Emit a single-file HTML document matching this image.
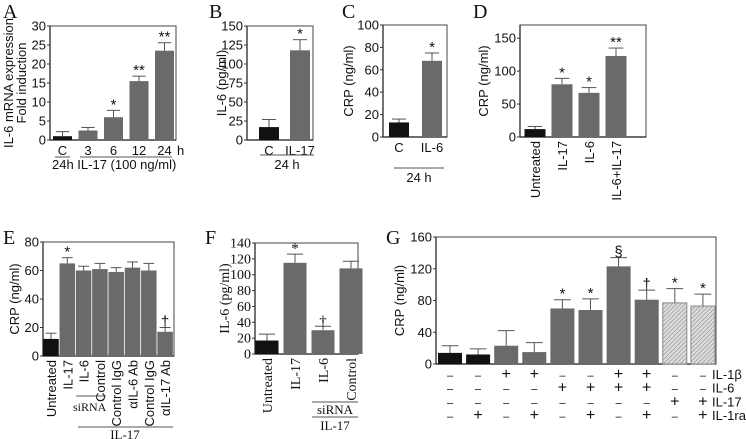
<!DOCTYPE html>
<html><head><meta charset="utf-8"><style>
body{margin:0;background:#fff}
svg{display:block;font-family:"Liberation Sans",sans-serif}
</style></head><body>
<svg id="fig" width="746" height="439" viewBox="0 0 746 439" xmlns="http://www.w3.org/2000/svg">
<defs><pattern id="hatch" width="3" height="3" patternUnits="userSpaceOnUse" patternTransform="rotate(45)"><rect width="3" height="3" fill="#ddd"/><line x1="0" y1="0" x2="0" y2="3" stroke="#888" stroke-width="1.2"/></pattern></defs>
<g font-family="Liberation Serif, serif" font-size="20" fill="#111">
<text x="3" y="18">A</text>
<text x="209" y="18">B</text>
<text x="342" y="18">C</text>
<text x="473" y="18">D</text>
<text x="3" y="244">E</text>
<text x="205" y="244">F</text>
<text x="386" y="244">G</text>
</g>
</svg>
<script>
// Panel A
const aCats=['C','3','6','12','24'];
const aVals=[1,2.5,6,15.5,23.5];
const aErr=[1.2,0.8,1.8,1.3,2.1];
const aMarks=['','','*','**','**'];
const aTicks=[0,5,10,15,20,25,30];
// Panel B
const bCats=['C','IL-17'];
const bVals=[17,118];
const bErr=[10,14];
const bMarks=['','*'];
const bTicks=[0,25,50,75,100,125,150];
// Panel C
const cCats=['C','IL-6'];
const cVals=[13,68];
const cErr=[3,7];
const cMarks=['','*'];
const cTicks=[0,20,40,60,80,100];
// Panel D
const dCats=['Untreated','IL-17','IL-6','IL-6+IL-17'];
const dVals=[12,80,67,123];
const dErr=[4,9,8,12];
const dMarks=['','*','*','**'];
const dTicks=[0,50,100,150];
// Panel E
const eCats=['Untreated','IL-17','IL-6','Control','Control IgG','\u03b1IL-6 Ab','Control IgG','\u03b1IL-17 Ab'];
const eVals=[12,65,60,61,59,62,60,17];
const eErr=[4,4,3,4,3,4,5,3];
const eMarks=['','*','','','','','','\u2020'];
const eTicks=[0,20,40,60,80];
// Panel F
const fCats=['Untreated','IL-17','IL-6','Control'];
const fVals=[17,115,30,108];
const fErr=[8,11,5,9];
const fMarks=['','*','\u2020',''];
const fTicks=[0,20,40,60,80,100,120,140];
// Panel G
const gVals=[14,12,23,15,70,68,123,81,77,73];
const gErr=[9,7,19,12,11,14,11,12,18,15];
const gMarks=['','','','','*','*','\u00a7','\u2020','*','*'];
const gTicks=[0,40,80,120,160];
const gRowNames=['IL-1\u03b2','IL-6','IL-17','IL-1ra'];
const gRow1=['-','-','+','+','-','-','+','+','-','-'];
const gRow2=['-','-','-','-','+','+','+','+','-','-'];
const gRow3=['-','-','-','-','-','-','-','-','+','+'];
const gRow4=['-','+','-','+','-','+','-','+','-','+'];

const svg=document.getElementById('fig');
const NS='http://www.w3.org/2000/svg';
function mk(tag,attrs,parent){const e=document.createElementNS(NS,tag);for(const k in attrs)e.setAttribute(k,attrs[k]);(parent||svg).appendChild(e);return e;}
function txt(s,attrs,parent){const e=mk('text',attrs,parent);e.textContent=s;return e;}

function panel(id,L,cats,vals,errs,marks,ticks,colors){
  const g=mk('g',{});
  
  
  const font=L.font||'Liberation Sans, sans-serif';
  const max=L.max;
  const y=v=>L.y1-(v/max)*(L.y1-L.y0);
  const x=i=>L.first+i*L.step;
  const frame=mk('rect',{x:L.x0,y:L.y0,width:L.x1-L.x0,height:L.y1-L.y0,fill:'none',stroke:'#555','stroke-width':1.1},g);
  
  
  mk('line',{x1:L.x0,x2:L.x0,y1:L.y0,y2:L.y1,stroke:'#222','stroke-width':1.2},g);
  mk('line',{x1:L.x0,x2:L.x1,y1:L.y1,y2:L.y1,stroke:'#222','stroke-width':1.2},g);
  ticks.forEach(t=>{
    const yy=y(t);
    mk('line',{x1:L.x0-3,x2:L.x0,y1:yy,y2:yy,stroke:'#333'},g);
    const tl=txt(String(t),{x:L.x0-4,y:yy+4.5,'text-anchor':'end','font-size':L.fs||13,'font-family':font,fill:'#111'},g);
    
    
  });
  vals.forEach((v,i)=>{
    const cx=x(i),w=L.bw;
    const top=y(v+errs[i]);
    mk('line',{x1:cx,x2:cx,y1:y(v),y2:top,stroke:'#555','stroke-width':1},g);
    mk('line',{x1:cx-w*0.35,x2:cx+w*0.35,y1:top,y2:top,stroke:'#555','stroke-width':1},g);
    const r=mk('rect',{x:cx-w/2,y:y(v),width:w,height:L.y1-y(v),fill:colors[i],stroke:colors[i]==='url(#hatch)'?'#888':'none'},g);
    
    
    if(marks[i]){
      const m=txt(marks[i],{x:cx,y:top-1,'text-anchor':'middle','font-size':15,'font-family':font,fill:'#111'},g);
      
      
    }
    if(cats){
      let lab;
      if(L.rot){
        lab=txt(cats[i],{x:0,y:0,'text-anchor':'end','font-size':L.fs||13,'font-family':font,fill:'#111',transform:'translate('+(cx+5)+','+(L.y1+4)+') rotate(-90)'},g);
      }else{
        lab=txt(cats[i],{x:cx,y:L.y1+15,'text-anchor':'middle','font-size':L.fs||13,'font-family':font,fill:'#111'},g);
      }
      
      
    }
  });
  const yl=txt(L.ylab,{x:0,y:0,'text-anchor':'middle','font-size':L.fs||13,'font-family':font,fill:'#111',transform:'translate('+L.ylx+','+((L.y0+L.y1)/2)+') rotate(-90)'},g);
  
  
  return g;
}
const K='#111',G='#6a6a6a';
panel('a',{x0:50,x1:176,y0:26,y1:140,max:30,first:62.5,step:25.5,bw:19,ylab:'Fold induction',ylx:26},aCats,aVals,aErr,aMarks,aTicks,[K,G,G,G,G]);
txt('IL-6 mRNA expression',{x:0,y:0,'text-anchor':'middle','font-size':13,fill:'#111',transform:'translate(13,83) rotate(-90)'});
txt('h',{x:177,y:155,'font-size':13,fill:'#111'});
mk('line',{x1:55,x2:70,y1:157,y2:157,stroke:'#555'});
mk('line',{x1:80,x2:172,y1:157,y2:157,stroke:'#555'});
txt('24h  IL-17 (100 ng/ml)',{x:52,y:169,'font-size':13,fill:'#111'});
panel('b',{x0:247,x1:313,y0:26,y1:140,max:150,first:269,step:31,bw:20,ylab:'IL-6 (pg/ml)',ylx:226},bCats,bVals,bErr,bMarks,bTicks,[K,G]);
mk('line',{x1:260,x2:314,y1:155,y2:155,stroke:'#555'});
txt('24 h',{x:287,y:169,'text-anchor':'middle','font-size':13,fill:'#111'});
panel('c',{x0:383,x1:447,y0:25,y1:137,max:100,first:399,step:33,bw:20,ylab:'CRP (ng/ml)',ylx:353},cCats,cVals,cErr,cMarks,cTicks,[K,G]);
mk('line',{x1:394,x2:444,y1:168,y2:168,stroke:'#555'});
txt('24 h',{x:419,y:182,'text-anchor':'middle','font-size':13,fill:'#111'});
panel('d',{x0:520,x1:646,y0:25,y1:137,max:170,first:535,step:27,bw:21,rot:true,ylab:'CRP (ng/ml)',ylx:488},dCats,dVals,dErr,dMarks,dTicks,[K,G,G,G]);
panel('e',{x0:43,x1:174,y0:242,y1:356,max:80,first:51,step:16.3,bw:15.5,rot:true,ylab:'CRP (ng/ml)',ylx:19},eCats,eVals,eErr,eMarks,eTicks,[K,G,G,G,G,G,G,G]);
mk('line',{x1:76,x2:106,y1:396,y2:396,stroke:'#555'});
txt('siRNA',{x:73,y:411,'font-size':12,'font-family':'Liberation Serif, serif',fill:'#111'});
mk('line',{x1:78,x2:173,y1:427,y2:427,stroke:'#555'});
txt('IL-17',{x:125,y:439,'text-anchor':'middle','font-size':13,'font-family':'Liberation Serif, serif',fill:'#111'});
panel('f',{x0:255,x1:358,y0:243,y1:354,max:140,first:267,step:28,bw:23,rot:true,font:'Liberation Serif, serif',fs:14,ylab:'IL-6 (pg/ml)',ylx:229},fCats,fVals,fErr,fMarks,fTicks,[K,G,G,G]);
mk('line',{x1:312,x2:358,y1:402,y2:402,stroke:'#555'});
txt('siRNA',{x:335,y:414,'text-anchor':'middle','font-size':13,'font-family':'Liberation Serif, serif',fill:'#111'});
mk('line',{x1:312,x2:358,y1:417,y2:417,stroke:'#555'});
txt('IL-17',{x:335,y:430,'text-anchor':'middle','font-size':13,'font-family':'Liberation Serif, serif',fill:'#111'});
const gL={x0:436,x1:716,y0:237,y1:364,max:160,first:450,step:28.1,bw:24,ylab:'CRP (ng/ml)',ylx:404};
panel('g',gL,null,gVals,gErr,gMarks,gTicks,[K,K,G,G,G,G,G,G,'url(#hatch)','url(#hatch)']);
[gRow1,gRow2,gRow3,gRow4].forEach((row,r)=>{
  const yy=379+r*13.7;
  row.forEach((s,i)=>{
    const t=txt(s==='+'?'+':'\u2013',{x:gL.first+i*gL.step,y:yy,'text-anchor':'middle','font-size':s==='+'?16:11,fill:'#111'});
    
    
  });
  const n=txt(gRowNames[r],{x:712,y:yy,'font-size':13,fill:'#111'});
  
  
});
</script>
</body></html>
